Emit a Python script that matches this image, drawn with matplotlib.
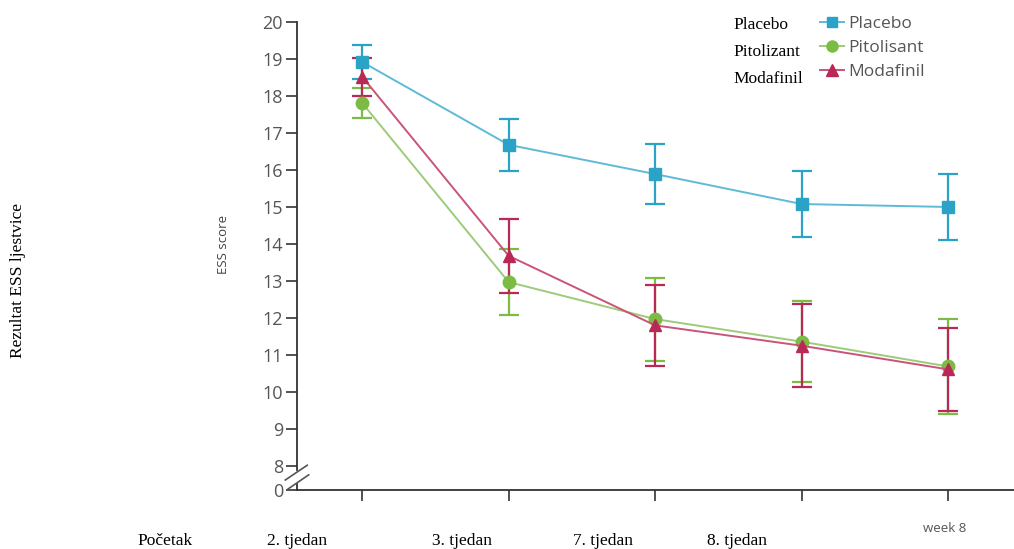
import matplotlib
matplotlib.use("Agg")
import matplotlib.pyplot as plt
from matplotlib.lines import Line2D

weeks = [0, 1, 2, 3, 4]
placebo = [18.92, 16.68, 15.89, 15.08, 15.0]
placebo_err = [0.45, 0.70, 0.80, 0.90, 0.88]
pitolisant = [17.81, 12.97, 11.97, 11.36, 10.69]
pitolisant_err = [0.40, 0.90, 1.12, 1.10, 1.28]
modafinil = [18.52, 13.68, 11.80, 11.25, 10.61]
modafinil_err = [0.52, 1.00, 1.10, 1.12, 1.12]

ytick_vals = [7.35, 8, 9, 10, 11, 12, 13, 14, 15, 16, 17, 18, 19, 20]
ytick_labels = ["0", "8", "9", "10", "11", "12", "13", "14", "15", "16", "17", "18", "19", "20"]
overlay_x_labels = ["Početak", "2. tjedan", "3. tjedan", "7. tjedan", "8. tjedan"]
legend_names = ["Placebo", "Pitolisant", "Modafinil"]
overlay_legend = ["Placebo", "Pitolizant", "Modafinil"]

c_pla, c_pit, c_mod = "#2ba3c6", "#7cbc45", "#b82a55"
l_pla, l_pit, l_mod = "#5fbad6", "#9ccb7a", "#c85577"

fig = plt.figure(figsize=(10.14, 5.49), dpi=100)
ax = fig.add_axes([297/1014, 1-490/549, 1-297/1014, (490-22)/549])

sans = ["Open Sans", "DejaVu Sans"]
for vals, err, col, lcol, mk, ms in [
    (placebo, placebo_err, c_pla, l_pla, "s", 8),
    (pitolisant, pitolisant_err, c_pit, l_pit, "o", 9),
    (modafinil, modafinil_err, c_mod, l_mod, "^", 9),
]:
    ax.errorbar(weeks, vals, yerr=err, color=lcol, ecolor=col, elinewidth=1.6,
                capsize=7, capthick=1.6, lw=1.4, marker=mk, markersize=ms,
                markerfacecolor=col, markeredgecolor=col, zorder=3)

ax.set_xlim(-0.445, 4.45)
ax.set_ylim(7.35, 20)
ax.set_yticks(ytick_vals)
ax.set_yticklabels(ytick_labels, fontsize=13, color="#555555", family=sans, weight="medium")
ax.set_xticks(weeks)
ax.set_xticklabels([])
ax.tick_params(axis="y", length=8, width=1.2, color="#333333", pad=2)
ax.tick_params(axis="x", length=8, width=1.2, color="#333333")
for s in ["top", "right"]:
    ax.spines[s].set_visible(False)
for s in ["left", "bottom"]:
    ax.spines[s].set_color("#333333")
    ax.spines[s].set_linewidth(1.3)
ax.spines["bottom"].set_bounds(-0.445, 4.45)

# axis break marks
sx = -0.445
ax.plot([sx, sx], [7.6, 7.8], color="white", lw=3, clip_on=False, zorder=4)
ax.plot([sx - 0.08, sx + 0.07], [7.62, 8.02], color="#555555", lw=1.2,
        clip_on=False, zorder=5)
ax.plot([sx - 0.06, sx + 0.08], [7.38, 7.76], color="#555555", lw=1.2,
        clip_on=False, zorder=5)

ax.text(-0.95, 14.0, "ESS score", rotation=90, fontsize=9.5, color="#444444",
        family=sans, ha="center", va="center", transform=ax.transData)

# legend
handles = [
    Line2D([], [], color=l_pla, marker="s", markerfacecolor=c_pla, markeredgecolor=c_pla, markersize=7, lw=1.4),
    Line2D([], [], color=l_pit, marker="o", markerfacecolor=c_pit, markeredgecolor=c_pit, markersize=8, lw=1.4),
    Line2D([], [], color=l_mod, marker="^", markerfacecolor=c_mod, markeredgecolor=c_mod, markersize=8, lw=1.4),
]
leg = fig.legend(handles, legend_names, loc="upper left", bbox_to_anchor=(804/1014, 1-0/549),
                 frameon=False, handlelength=1.4, handletextpad=0.25, labelspacing=0.45,
                 prop={"family": sans, "size": 12.5, "weight": "medium"})
for t in leg.get_texts():
    t.set_color("#555555")

serif = ["Liberation Serif", "DejaVu Serif"]
for i, name in enumerate(overlay_legend):
    fig.text(733/1014, 1-(25 + 27*i)/549, name, fontsize=12.5, family=serif,
             ha="left", va="center", color="black")

label_x = [165, 297, 462, 603, 737]
for x, lab in zip(label_x, overlay_x_labels):
    fig.text(x/1014, 1-541/549, lab, fontsize=12.5, family=serif, ha="center",
             va="center", color="black")
fig.text(945/1014, 1-528/549, "week 8", fontsize=9.5, family=sans, ha="center",
         va="center", color="#555555")

fig.text(18/1014, 1-280/549, "Rezultat ESS ljestvice", rotation=90, fontsize=12.5,
         family=serif, ha="center", va="center", color="black")

fig.savefig("out.png", dpi=100)
